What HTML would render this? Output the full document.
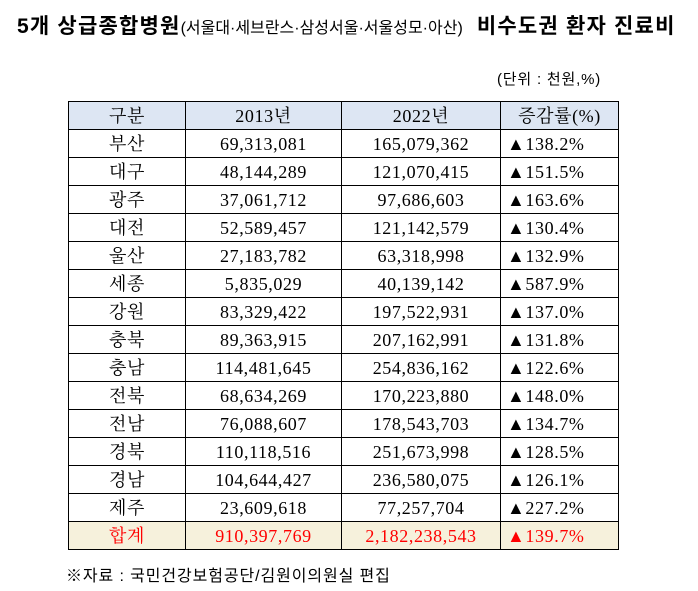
<!DOCTYPE html>
<html><head><meta charset="utf-8"><style>
body{margin:0;width:698px;height:591px;background:#fff;position:relative;overflow:hidden;font-family:"Liberation Sans","Noto Sans CJK KR",sans-serif}
.title{position:absolute;left:17px;top:10px;font-size:21px;font-weight:bold;white-space:nowrap;letter-spacing:1.2px}
.title .s{font-size:16px;font-weight:normal;letter-spacing:0}
.unit{position:absolute;left:497px;top:68px;font-size:15px;letter-spacing:0.8px}
table{position:absolute;left:68px;top:101px;border-collapse:collapse;font-family:"Liberation Serif","Noto Serif CJK KR",serif;font-size:18px;letter-spacing:0.6px}
td{border:1.5px solid #000;height:27px;padding:0;text-align:center;line-height:26px}
tr.h td{background:#dde6f3}
tr.t td{background:#f6f1dc;color:#f00}
td.c{text-align:left;padding-left:6px}
.foot{position:absolute;left:66px;top:562px;font-size:16px;letter-spacing:0.9px}
</style></head><body>
<div class="title">5개 상급종합병원<span class="s">(서울대·세브란스·삼성서울·서울성모·아산)</span>&nbsp; 비수도권 환자 진료비</div>
<div class="unit">(단위 : 천원,%)</div>
<table>
<tr class="h"><td style="width:116px">구분</td><td style="width:155px">2013년</td><td style="width:158px">2022년</td><td style="width:117px">증감률(%)</td></tr>
<tr><td>부산</td><td>69,313,081</td><td>165,079,362</td><td class="c">▲138.2%</td></tr>
<tr><td>대구</td><td>48,144,289</td><td>121,070,415</td><td class="c">▲151.5%</td></tr>
<tr><td>광주</td><td>37,061,712</td><td>97,686,603</td><td class="c">▲163.6%</td></tr>
<tr><td>대전</td><td>52,589,457</td><td>121,142,579</td><td class="c">▲130.4%</td></tr>
<tr><td>울산</td><td>27,183,782</td><td>63,318,998</td><td class="c">▲132.9%</td></tr>
<tr><td>세종</td><td>5,835,029</td><td>40,139,142</td><td class="c">▲587.9%</td></tr>
<tr><td>강원</td><td>83,329,422</td><td>197,522,931</td><td class="c">▲137.0%</td></tr>
<tr><td>충북</td><td>89,363,915</td><td>207,162,991</td><td class="c">▲131.8%</td></tr>
<tr><td>충남</td><td>114,481,645</td><td>254,836,162</td><td class="c">▲122.6%</td></tr>
<tr><td>전북</td><td>68,634,269</td><td>170,223,880</td><td class="c">▲148.0%</td></tr>
<tr><td>전남</td><td>76,088,607</td><td>178,543,703</td><td class="c">▲134.7%</td></tr>
<tr><td>경북</td><td>110,118,516</td><td>251,673,998</td><td class="c">▲128.5%</td></tr>
<tr><td>경남</td><td>104,644,427</td><td>236,580,075</td><td class="c">▲126.1%</td></tr>
<tr><td>제주</td><td>23,609,618</td><td>77,257,704</td><td class="c">▲227.2%</td></tr>
<tr class="t"><td>합계</td><td>910,397,769</td><td>2,182,238,543</td><td class="c">▲139.7%</td></tr>
</table>
<div class="foot">※자료 : 국민건강보험공단/김원이의원실 편집</div>
</body></html>
